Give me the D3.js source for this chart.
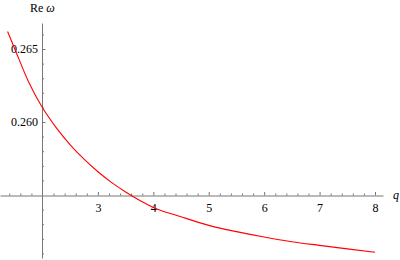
<!DOCTYPE html>
<html>
<head>
<meta charset="utf-8">
<script src="https://cdn.jsdelivr.net/npm/d3@7"></script>
<style>
  html, body { margin: 0; padding: 0; background: #fff; }
</style>
</head>
<body>
<div id="chart"></div>
<script>
// values
const qVals = [1.37, 1.5, 1.75, 2.0, 2.25, 2.5, 2.75, 3.0, 3.25, 3.5, 3.75, 4.0, 4.5, 5.0, 5.5, 6.0, 6.5, 7.0, 7.5, 8.0];
const reOmega = [0.2662, 0.2650, 0.26274, 0.26097, 0.25960, 0.25844, 0.25745, 0.25659, 0.25585, 0.25521,
                 0.25464, 0.25415, 0.25351, 0.25292, 0.25249, 0.25212, 0.25180, 0.25155, 0.25131, 0.25108];

const xTicks = [3, 4, 5, 6, 7, 8];
const yTicks = [0.260, 0.265];
const xLabel = "q";
const yLabel = ["Re", "\u03c9"];

const width = 400, height = 260;
const serif = "'Liberation Serif', 'Times New Roman', 'DejaVu Serif', serif";

const svg = d3.select("#chart").append("svg")
    .attr("width", width)
    .attr("height", height);

// axes cross at q = 2, Re w = 0.255
const x = d3.scaleLinear().domain([2, 8]).range([42.5, 375]);
const y = d3.scaleLinear().domain([0.255, 0.265]).range([195, 49]);

// the axis lines run a bit past the plotted data
const xAxisScale = x.copy().domain([x.invert(0), x.invert(383)]).range([0, 383]);
const yAxisScale = y.copy().domain([y.invert(258), y.invert(23)]).range([258, 23]);

const xMinor = d3.range(14, 81, 2).map(d => d / 10).filter(d => d % 1 !== 0);
const yMinor = d3.range(251, 267).map(d => d / 1000).filter(d => Math.abs(d * 200 - Math.round(d * 200)) > 1e-6);

// x axis
const xAxisG = svg.append("g").attr("transform", "translate(0,195.5)");
xAxisG.call(d3.axisBottom(xAxisScale).tickValues(xTicks).tickSize(-3.5).tickSizeOuter(0).tickPadding(8)
    .tickFormat(d3.format("d")));
xAxisG.append("g").call(d3.axisBottom(xAxisScale).tickValues(xMinor).tickSize(-2).tickSizeOuter(0).tickFormat(""))
    .select(".domain").remove();
xAxisG.selectAll("path, line").attr("stroke", "#777");

// y axis
const yAxisG = svg.append("g").attr("transform", "translate(42,0)");
yAxisG.call(d3.axisLeft(yAxisScale).tickValues(yTicks).tickSize(-3.5).tickSizeOuter(0).tickPadding(4)
    .tickFormat(d3.format(".3f")));
yAxisG.append("g").call(d3.axisLeft(yAxisScale).tickValues(yMinor).tickSize(-2).tickSizeOuter(0).tickFormat(""))
    .select(".domain").remove();
yAxisG.selectAll("path, line").attr("stroke", "#777");

svg.selectAll("g").attr("font-family", serif).attr("font-size", 12);
svg.selectAll("text").attr("fill", "#000");

// axis labels
const yl = svg.append("text")
    .attr("x", 30).attr("y", 12)
    .attr("font-family", serif)
    .attr("font-size", 12);
yl.append("tspan").text(yLabel[0]);
yl.append("tspan").attr("dx", 3).attr("font-style", "italic").text(yLabel[1]);

svg.append("text")
    .attr("x", 393).attr("y", 199)
    .attr("font-family", serif)
    .attr("font-size", 12)
    .attr("font-style", "italic")
    .text(xLabel);

// curve
const pts = qVals.map((q, i) => ({ q, v: reOmega[i] }));
const line = d3.line()
    .x(d => x(d.q))
    .y(d => y(d.v))
    .curve(d3.curveMonotoneX);

svg.append("path")
    .datum(pts)
    .attr("fill", "none")
    .attr("stroke", "#ff0000")
    .attr("stroke-width", 1.1)
    .attr("d", line);
</script>
</body>
</html>
